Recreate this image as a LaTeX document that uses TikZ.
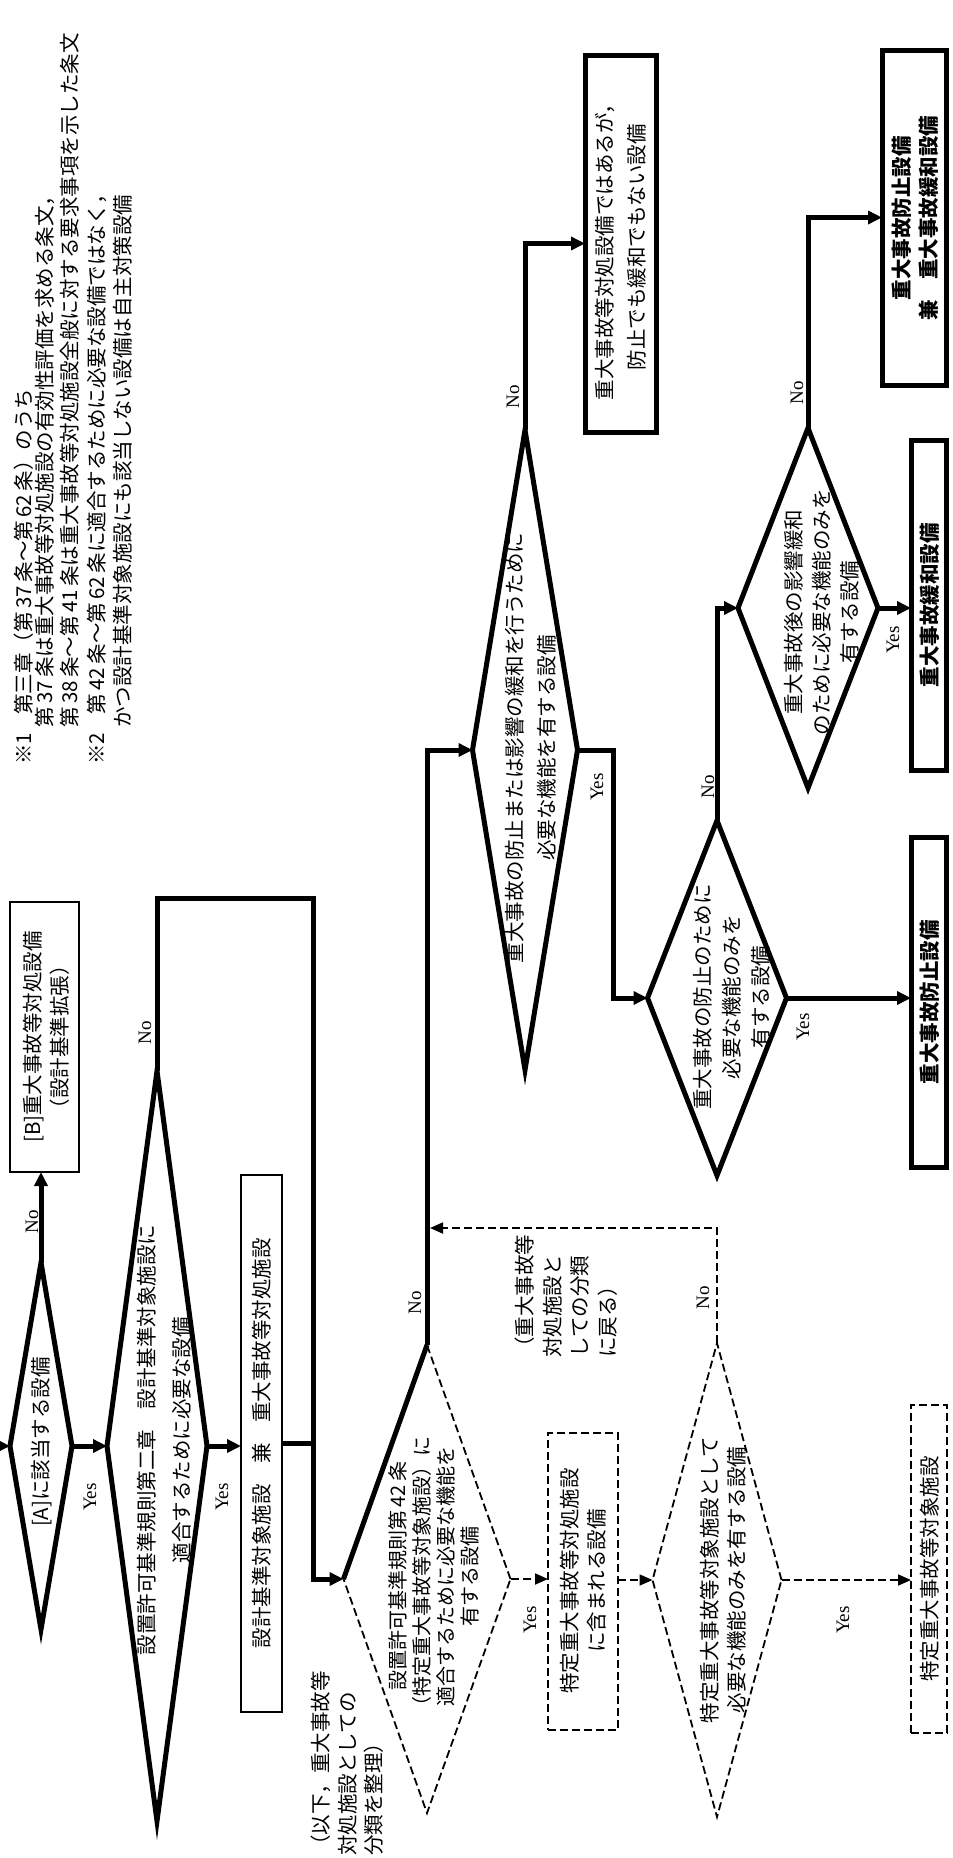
\documentclass[tikz,border=0pt]{standalone}
\usepackage{fontspec}
\usetikzlibrary{shapes.geometric,arrows.meta,calc}
\newfontfamily\jp{Noto Sans CJK JP}
\newfontfamily\lat{Liberation Serif}
\newcommand\jpf[2]{\jp\fontsize{#1}{#2}\selectfont}
\begin{document}
\begin{tikzpicture}[x=1pt,y=-1pt,
  heavy/.style={line width=5pt},
  thinln/.style={line width=1.8pt},
  dsh/.style={line width=1.8pt, dash pattern=on 8pt off 4pt},
  dia/.style={diamond, inner sep=0pt, outer sep=0pt},
  bx/.style={rectangle, inner sep=0pt, outer sep=0pt},
  arr/.style={-{Triangle[length=14pt,width=13pt]}},
  darr/.style={-{Triangle[length=13pt,width=11pt]}},
  lbl/.style={rotate=90, align=center, inner sep=0pt},
  note/.style={rotate=90, align=left, inner sep=0pt},
  yn/.style={rotate=90, inner sep=0pt, font=\lat\fontsize{19}{19}\selectfont},
]
\useasboundingbox (0,0) rectangle (953,1858);

% footnotes
\node[note, anchor=west, font=\jpf{20.5}{24}] (f1) at (24,765) {※1\hspace{0.9em}第三章（第\,37\,条～第\,62\,条）のうち};
\node[note, anchor=west, font=\jpf{20.5}{24}] (f2) at (45,728) {第\,37\,条は重大事故等対処施設の有効性評価を求める条文，};
\node[note, anchor=west, font=\jpf{20.5}{24}] (f3) at (70,728) {第\,38\,条～第\,41\,条は重大事故等対処施設全般に対する要求事項を示した条文};
\node[note, anchor=west, font=\jpf{20.5}{24}] (f4) at (97,765) {※2\hspace{0.9em}第\,42\,条～第\,62\,条に適合するために必要な設備ではなく，};
\node[note, anchor=west, font=\jpf{20.5}{24}] (f5) at (123,728) {かつ設計基準対象施設にも該当しない設備は自主対策設備};

% boxes
\node[bx, draw, thinln, minimum width=69pt, minimum height=270pt] (Bb) at (44.5,1037) {};
\node[bx, draw, thinln, minimum width=41pt, minimum height=537pt] (D) at (261.5,1443.5) {};
\node[bx, draw, heavy, minimum width=71pt, minimum height=377pt] (F) at (620.5,243.5) {};
\node[bx, draw, heavy, minimum width=35pt, minimum height=330pt] (H) at (928.5,1002) {};
\node[bx, draw, heavy, minimum width=35pt, minimum height=330pt] (J) at (928.5,605) {};
\node[bx, draw, heavy, minimum width=64pt, minimum height=335pt] (K) at (914,217.5) {};
\node[bx, draw, dsh, minimum width=70pt, minimum height=297pt] (L) at (583,1581.5) {};
\node[bx, draw, dsh, minimum width=36pt, minimum height=328pt] (N) at (929,1569) {};

% diamonds
\node[dia, draw, heavy, minimum width=62pt, minimum height=367pt] (A) at (41,1446) {};
\node[dia, draw, heavy, minimum width=100pt, minimum height=750pt] (B) at (157,1446) {};
\node[dia, draw, dsh, minimum width=167pt, minimum height=468pt] (C) at (427,1579) {};
\node[dia, draw, heavy, minimum width=105pt, minimum height=640pt] (E) at (525,750) {};
\node[dia, draw, heavy, minimum width=139pt, minimum height=355pt] (G) at (717,998) {};
\node[dia, draw, heavy, minimum width=140pt, minimum height=360pt] (I) at (808,608) {};
\node[dia, draw, dsh, minimum width=129pt, minimum height=474pt] (M) at (717,1580) {};

% texts
\node[lbl, font=\jpf{20.5}{27}] (tBb) at (46,1037) {[B]重大事故等対処設備\\（設計基準拡張）};
\node[lbl, font=\jpf{20.5}{27}] (tA) at (42,1442) {[A]に該当する設備};
\node[lbl, font=\jpf{20.5}{35}] (tB) at (164,1440) {設置許可基準規則第二章　設計基準対象施設に\\適合するために必要な設備};
\node[lbl, font=\jpf{20.5}{27}] (tD) at (262,1443) {設計基準対象施設　兼　重大事故等対処施設};
\node[lbl, font=\jpf{20}{24}] (tC) at (434,1576) {設置許可基準規則第\,42\,条\\（特定重大事故等対象施設）に\\適合するために必要な機能を\\有する設備};
\node[lbl, font=\jpf{20.5}{32}] (tE) at (531,748) {重大事故の防止または影響の緩和を行うために\\必要な機能を有する設備};
\node[lbl, font=\jpf{20.5}{32}] (tF) at (621,247) {重大事故等対処設備ではあるが，\\防止でも緩和でもない設備};
\node[lbl, font=\jpf{20.5}{29}] (tG) at (732,997) {重大事故の防止のために\\必要な機能のみを\\有する設備};
\node[lbl, font=\jpf{20.5}{28}] (tI) at (822,612) {重大事故後の影響緩和\\のために必要な機能のみを\\有する設備};
\node[lbl, font=\jpf{20.5}{27}\bfseries] (tH) at (930,1002) {重大事故防止設備};
\node[lbl, font=\jpf{20.5}{27}\bfseries] (tJ) at (930,605) {重大事故緩和設備};
\node[lbl, font=\jpf{20.5}{27}\bfseries] (tK) at (915,218) {重大事故防止設備\\兼　重大事故緩和設備};
\node[lbl, font=\jpf{20.5}{27}] (tL) at (583,1581) {特定重大事故等対処施設\\に含まれる設備};
\node[lbl, font=\jpf{20.5}{27}] (tM) at (723,1580) {特定重大事故等対象施設として\\必要な機能のみを有する設備};
\node[lbl, font=\jpf{20.5}{27}] (tN) at (930,1569) {特定重大事故等対象施設};
\node[note, anchor=north west, font=\jpf{20.5}{27.5}] (tRet) at (515,1358) {（重大事故等\\対処施設と\\しての分類\\に戻る）};
\node[note, anchor=north west, font=\jpf{20.5}{26.5}] (tOrg) at (311,1856) {（以下，重大事故等\\対処施設としての\\分類を整理）};

% connectors
\coordinate (in0) at (0,1446);
\coordinate (j1) at (313,898);
\coordinate (j2) at (313,1579);
\coordinate (j3) at (613,750);
\coordinate (j4) at (430,1228);
\draw[heavy, arr] (in0) -- (A.west);
\draw[heavy, arr] (A.east) -- (B.west);
\draw[heavy, arr] (A.north) -- (A.north |- Bb.south);
\draw[heavy, arr] (B.north) |- (j1) -- (j2) -- (C.west);
\draw[heavy, arr] (B.east) -- (B.east -| D.west);
\draw[heavy] (D.east) -- (D.east -| j1);
\draw[heavy] (C.west) -- (C.north);
\draw[heavy, arr] (C.north) |- (E.west);
\draw[heavy, arr] (E.north) |- (F.west);
\draw[heavy, arr] (E.east) -- (j3) |- (G.west);
\draw[heavy, arr] (G.east) -- (G.east -| H.west);
\draw[heavy, arr] (G.north) |- (I.west);
\draw[heavy, arr] (I.east) -- (I.east -| J.west);
\draw[heavy, arr] (I.north) |- (K.west);
\draw[dsh, darr] (C.east) -- (C.east -| L.west);
\draw[dsh, darr] (M.west -| L.east) -- (M.west);
\draw[dsh, darr] (M.east) -- (M.east -| N.west);
\draw[dsh, darr] (M.north) |- (j4);

% yes / no labels
\node[yn] (nA) at (32,1222) {No};
\node[yn] (yA) at (90,1497) {Yes};
\node[yn] (nB) at (145,1033) {No};
\node[yn] (yB) at (222,1497) {Yes};
\node[yn] (nC) at (415,1303) {No};
\node[yn] (yC) at (530,1620) {Yes};
\node[yn] (nE) at (513,397) {No};
\node[yn] (yE) at (597,787) {Yes};
\node[yn] (nG) at (708,787) {No};
\node[yn] (yG) at (803,1027) {Yes};
\node[yn] (nI) at (797,393) {No};
\node[yn] (yI) at (893,640) {Yes};
\node[yn] (nM) at (703,1298) {No};
\node[yn] (yM) at (843,1620) {Yes};
\end{tikzpicture}
\end{document}
